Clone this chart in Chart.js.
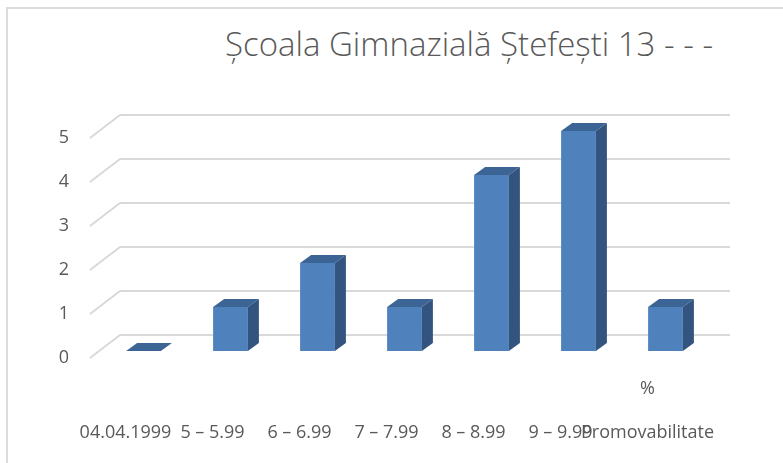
<!DOCTYPE html>
<html>
<head>
<meta charset="utf-8">
<script src="https://cdn.jsdelivr.net/npm/chart.js@4.4.1/dist/chart.umd.min.js"></script>
<style>
  html, body { margin: 0; padding: 0; background: #fff; overflow: hidden; }
  #wrap { position: relative; width: 783px; height: 463px; overflow: hidden; }
  #frame { position: absolute; left: 6px; top: 7px; width: 820px; height: 520px; border: 2px solid #dcdcdc; }
  #title { position: absolute; left: 169px; width: 600px; top: 27px; text-align: center; font-family: 'Open Sans'; font-weight: 300; font-size: 33px; line-height: 1; color: #595959; white-space: nowrap; }
  canvas { position: absolute; left: 0; top: 0; }
</style>
</head>
<body>
<div id="wrap">
  <div id="frame"></div>
  <div id="title">Școala Gimnazială Ștefești 13 - - -</div>
  <canvas id="chart" width="783" height="463"></canvas>
</div>
<script>
const categories = ['04.04.1999', '5 – 5.99', '6 – 6.99', '7 – 7.99', '8 – 8.99', '9 – 9.99', 'Promovabilitate %'];
const values = [0, 1, 2, 1, 4, 5, 1];
const yTicks = [0, 1, 2, 3, 4, 5];

// fake 3d: bars sit in the middle, floor front edge is lower-left, back wall upper-right
const barDepth = { dx: 11, dy: -8 };
const frontOff = { dx: -10, dy: 7 };
const backOff = { dx: 20, dy: -16 };

const fake3d = {
  id: 'fake3d',
  beforeDatasetsDraw(chart) {
    const { ctx, chartArea, scales } = chart;
    ctx.save();
    ctx.strokeStyle = '#d9d9d9';
    ctx.lineWidth = 2;
    yTicks.forEach((v) => {
      const py = scales.y.getPixelForValue(v);
      ctx.beginPath();
      ctx.moveTo(chartArea.left + frontOff.dx, py + frontOff.dy);
      ctx.lineTo(chartArea.left + backOff.dx, py + backOff.dy);
      ctx.lineTo(chartArea.right + backOff.dx + 1, py + backOff.dy);
      ctx.stroke();
    });
    ctx.restore();
  },
  afterDatasetsDraw(chart) {
    const { ctx } = chart;
    const meta = chart.getDatasetMeta(0);
    ctx.save();
    meta.data.forEach((bar) => {
      const { x, y, base, width } = bar.getProps(['x', 'y', 'base', 'width'], true);
      const x0 = x - width / 2;
      const x1 = x + width / 2;
      // top face
      ctx.fillStyle = '#3c6596';
      ctx.beginPath();
      ctx.moveTo(x0, y);
      ctx.lineTo(x1, y);
      ctx.lineTo(x1 + barDepth.dx, y + barDepth.dy);
      ctx.lineTo(x0 + barDepth.dx, y + barDepth.dy);
      ctx.closePath();
      ctx.fill();
      // side face
      if (base - y > 0.5) {
        ctx.fillStyle = '#32547e';
        ctx.beginPath();
        ctx.moveTo(x1, y);
        ctx.lineTo(x1 + barDepth.dx, y + barDepth.dy);
        ctx.lineTo(x1 + barDepth.dx, base + barDepth.dy);
        ctx.lineTo(x1, base);
        ctx.closePath();
        ctx.fill();
      }
    });
    ctx.restore();
  }
};

const ctx = document.getElementById('chart').getContext('2d');
new Chart(ctx, {
  type: 'bar',
  data: {
    labels: categories,
    datasets: [
      {
        data: values,
        backgroundColor: '#4f81bd',
        borderWidth: 0,
        barPercentage: 0.4,
        categoryPercentage: 1.0,
      },
    ],
  },
  options: {
    responsive: false,
    animation: false,
    layout: {
      padding: { left: 0, right: 74, top: 131, bottom: 0 },
    },
    plugins: {
      legend: { display: false },
      tooltip: { enabled: false },
      title: { display: false },
    },
    scales: {
      x: {
        grid: { display: false, drawTicks: false },
        border: { display: false },
        ticks: {
          autoSkip: false,
          maxRotation: 0,
          minRotation: 0,
          padding: 16,
          labelOffset: -18,
          color: '#595959',
          font: { family: 'Open Sans', size: 18, lineHeight: '44px' },
          callback: function (value, index) {
            const s = categories[index];
            if (s.endsWith(' %')) {
              return ['%', s.slice(0, -2)];
            }
            return ['', s];
          },
        },
        afterFit: function (scale) {
          scale.height = 112;
        },
      },
      y: {
        min: 0,
        max: 5,
        grid: { display: false, drawTicks: false },
        border: { display: false },
        ticks: {
          stepSize: 1,
          padding: 31,
          labelOffset: 7,
          color: '#595959',
          font: { family: 'Open Sans', size: 18 },
        },
        afterFit: function (scale) {
          scale.width = 100;
        },
      },
    },
  },
  plugins: [fake3d],
});
</script>
</body>
</html>
